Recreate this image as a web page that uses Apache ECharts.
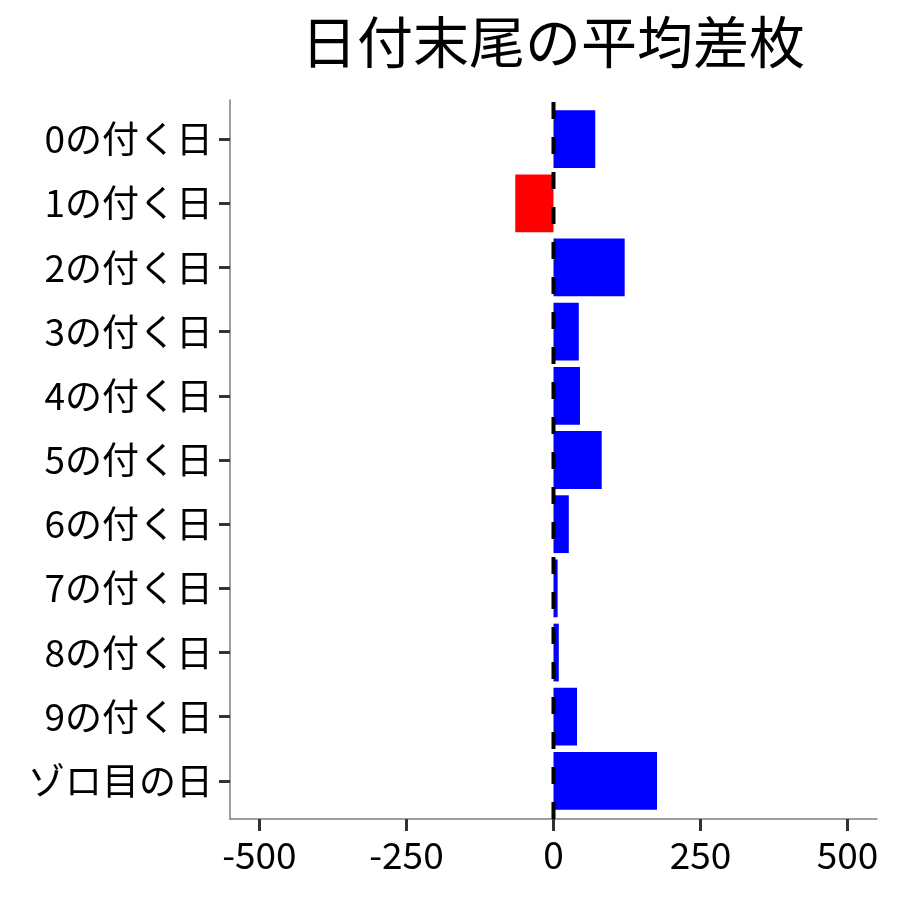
<!DOCTYPE html>
<html>
<head>
<meta charset="utf-8">
<script src="https://cdn.jsdelivr.net/npm/echarts@6/dist/echarts.min.js"></script>
<style>
    html, body { margin: 0; padding: 0; background: #fff; }
    #main { width: 900px; height: 900px; }
</style>
</head>
<body>
<div id="main"></div>
<script>
    // カテゴリと平均差枚
    var days = ['0の付く日', '1の付く日', '2の付く日', '3の付く日', '4の付く日', '5の付く日',
                '6の付く日', '7の付く日', '8の付く日', '9の付く日', 'ゾロ目の日']
    var diffs = [71, -65, 121, 43, 45, 82, 26, 7, 9, 40, 176]
    var xTicks = [-500, -250, 0, 250, 500]
    var zeroLine = [[0, 0], [0, 1]]

    var font = 'Noto Sans CJK JP'
    var myChart = echarts.init(document.getElementById('main'))

    myChart.setOption({
        animation: false,
        title: {
            text: '日付末尾の平均差枚',
            left: 548,
            textAlign: 'center',
            top: 9,
            textStyle: { fontFamily: font, fontSize: 56, fontWeight: 'normal', color: '#000' }
        },
        grid: [
            { left: 230, right: 23, top: 107, bottom: 87 },
            { left: 230, right: 23, top: 100, bottom: 81 }
        ],
        xAxis: [
            {
                gridIndex: 0, type: 'value', min: -550, max: 550,
                axisLine: { show: false, onZero: false }, axisTick: { show: false },
                axisLabel: { show: false }, splitLine: { show: false }
            },
            {
                gridIndex: 1, type: 'value', min: -550, max: 550,
                axisLine: { show: true, onZero: false, lineStyle: { color: '#7f7f7f', width: 1.5 } },
                axisTick: { show: true, length: 12, customValues: xTicks, lineStyle: { color: '#333', width: 3 } },
                axisLabel: { customValues: xTicks, margin: 17, fontFamily: font, fontSize: 37, color: '#000' },
                splitLine: { show: false }
            }
        ],
        yAxis: [
            {
                gridIndex: 0, type: 'category', data: days, inverse: true,
                axisLine: { show: false, onZero: false },
                axisTick: { show: true, length: 11, alignWithLabel: true, lineStyle: { color: '#333', width: 3 } },
                axisLabel: { margin: 17, fontFamily: font, fontSize: 37, color: '#000' },
                splitLine: { show: false }
            },
            {
                gridIndex: 1, type: 'value', min: 0, max: 1,
                axisLine: { show: true, onZero: false, lineStyle: { color: '#7f7f7f', width: 1.5 } },
                axisTick: { show: false }, axisLabel: { show: false }, splitLine: { show: false }
            }
        ],
        series: [
            {
                type: 'bar',
                xAxisIndex: 0,
                yAxisIndex: 0,
                barWidth: '90%',
                data: diffs.map(function (v) {
                    return { value: v, itemStyle: { color: v < 0 ? '#ff0000' : '#0000ff' } }
                })
            },
            {
                type: 'line',
                xAxisIndex: 1,
                yAxisIndex: 1,
                symbol: 'none',
                z: 5,
                lineStyle: { color: '#000', width: 4, type: [17, 18] },
                data: zeroLine
            }
        ]
    })
</script>
</body>
</html>
